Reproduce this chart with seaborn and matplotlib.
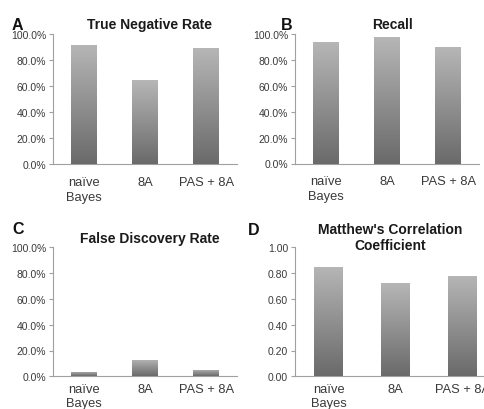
import numpy as np
import pandas as pd
import matplotlib
matplotlib.use('Agg')
import matplotlib.pyplot as plt
import seaborn as sns
from matplotlib.colors import LinearSegmentedColormap
from matplotlib.ticker import FuncFormatter

# values
methods = ['naïve\nBayes', '8A', 'PAS + 8A']
tnr = [91.8, 64.5, 89.0]
recall = [93.6, 97.9, 89.6]
fdr = [3.5, 12.5, 4.8]
mcc = [0.85, 0.72, 0.78]

sns.set_style('white')
plt.rcParams['font.family'] = ['Liberation Sans', 'DejaVu Sans']

grey_cmap = LinearSegmentedColormap.from_list('bar_grey', ['#6a6a6a', '#b6b6b6'])
axis_grey = '#a0a0a0'
text_grey = '#3a3a3a'


def grad_bars(ax):
    # vertical grey gradient on each bar, dark at the bottom
    grad = np.linspace(1, 0, 256).reshape(-1, 1)
    for p in ax.patches:
        x0, y0 = p.get_x(), p.get_y()
        w, h = p.get_width(), p.get_height()
        im = ax.imshow(grad, extent=[x0, x0 + w, y0, y0 + h], origin='upper',
                       cmap=grey_cmap, aspect='auto', zorder=3, interpolation='bilinear')
        im.set_clip_path(p)


def draw_panel(ax, values, ymax, fmt, title, title_x, title_pad=4, xpad=6):
    df = pd.DataFrame({'method': methods, 'value': values})
    sns.barplot(data=df, x='method', y='value', ax=ax, color='#999999', width=0.42,
                edgecolor='none', errorbar=None)
    grad_bars(ax)
    ax.set_xlim(-0.5, 2.5)
    ax.set_ylim(0, ymax)
    ax.set_yticks(np.linspace(0, ymax, 6))
    ax.yaxis.set_major_formatter(FuncFormatter(fmt))
    ax.set_xticks([0, 1, 2])
    ax.set_xticklabels(methods, fontsize=9.3, color=text_grey, linespacing=1.3)
    ax.set_xticks([0.5, 1.5, 2.5], minor=True)
    ax.tick_params(axis='x', which='major', length=0, pad=xpad)
    ax.tick_params(axis='x', which='minor', length=3, direction='out', color=axis_grey, width=0.8)
    ax.tick_params(axis='y', length=3, direction='out', color=axis_grey, width=0.8,
                   labelsize=7.5, labelcolor=text_grey, pad=2, left=True)
    ax.set_xlabel('')
    ax.set_ylabel('')
    for s in ['top', 'right']:
        ax.spines[s].set_visible(False)
    for s in ['left', 'bottom']:
        ax.spines[s].set_color(axis_grey)
        ax.spines[s].set_linewidth(0.8)
    ax.set_title(title, fontsize=10, fontweight='bold', color='#1a1a1a', x=title_x,
                 pad=title_pad, linespacing=1.25)


pct = lambda v, pos: f'{v:.1f}%'
dec = lambda v, pos: f'{v:.2f}'

fig = plt.figure(figsize=(4.84, 4.10), dpi=100)
W, H = 484, 410

ax_a = fig.add_axes([53 / W, 1 - 165 / H, 184 / W, 130 / H])
ax_b = fig.add_axes([295 / W, 1 - 164.5 / H, 184 / W, 129.5 / H])
ax_c = fig.add_axes([53 / W, 1 - 377.3 / H, 184 / W, 129 / H])
ax_d = fig.add_axes([295 / W, 1 - 377.3 / H, 201 / W, 129 / H])

draw_panel(ax_a, tnr, 100, pct, 'True Negative Rate', 0.527, xpad=8.5)
draw_panel(ax_b, recall, 100, pct, 'Recall', 0.528, xpad=8.5)
draw_panel(ax_c, fdr, 100, pct, 'False Discovery Rate', 0.527, xpad=4.5)
draw_panel(ax_d, mcc, 1.0, dec, "Matthew's Correlation\nCoefficient", 0.476, title_pad=-1.5, xpad=4.5)

for letter, x, y in [('A', 12, 29.5), ('B', 281, 29.5), ('C', 12, 234.5), ('D', 248, 235)]:
    fig.text(x / W, 1 - y / H, letter, fontsize=11.5, fontweight='bold', color='#111111',
             va='baseline', ha='left')

fig.savefig('out.png', dpi=100)
